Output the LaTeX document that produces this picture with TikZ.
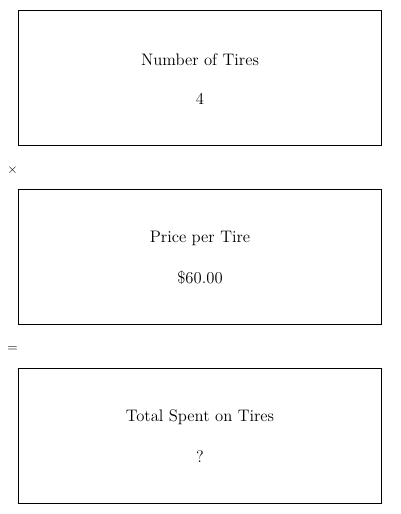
\documentclass[tikz,border=0pt]{standalone}
\begin{document}
\begin{tikzpicture}[x=0.75pt,y=-0.75pt,
  box/.style={draw=black,line width=0.75pt,minimum width=363*0.75pt,minimum height=135*0.75pt,inner sep=0pt},
  lbl/.style={font=\fontsize{12.5}{14}\selectfont,anchor=center},
  op/.style={font=\sffamily\fontsize{10}{12}\selectfont,anchor=center}]
\useasboundingbox (0,0) rectangle (400,514);
\node[box] (b1) at (199.5,77.5) {};
\node[box] (b2) at (199.5,256.5) {};
\node[box] (b3) at (199.5,435.5) {};
\node[lbl] (t1) at (200,59.5) {Number of Tires};
\node[lbl] (v1) at (200,98.5) {4};
\node[lbl] (t2) at (200,238.5) {Price per Tire};
\node[lbl] (v2) at (200,277.5) {\$60.00};
\node[lbl] (t3) at (200,417.5) {Total Spent on Tires};
\node[lbl] (v3) at (200,456.5) {?};
\node[op] (x) at (12.5,170) {$\times$};
\node[op] (eq) at (12.5,349) {=};
\end{tikzpicture}
\end{document}
